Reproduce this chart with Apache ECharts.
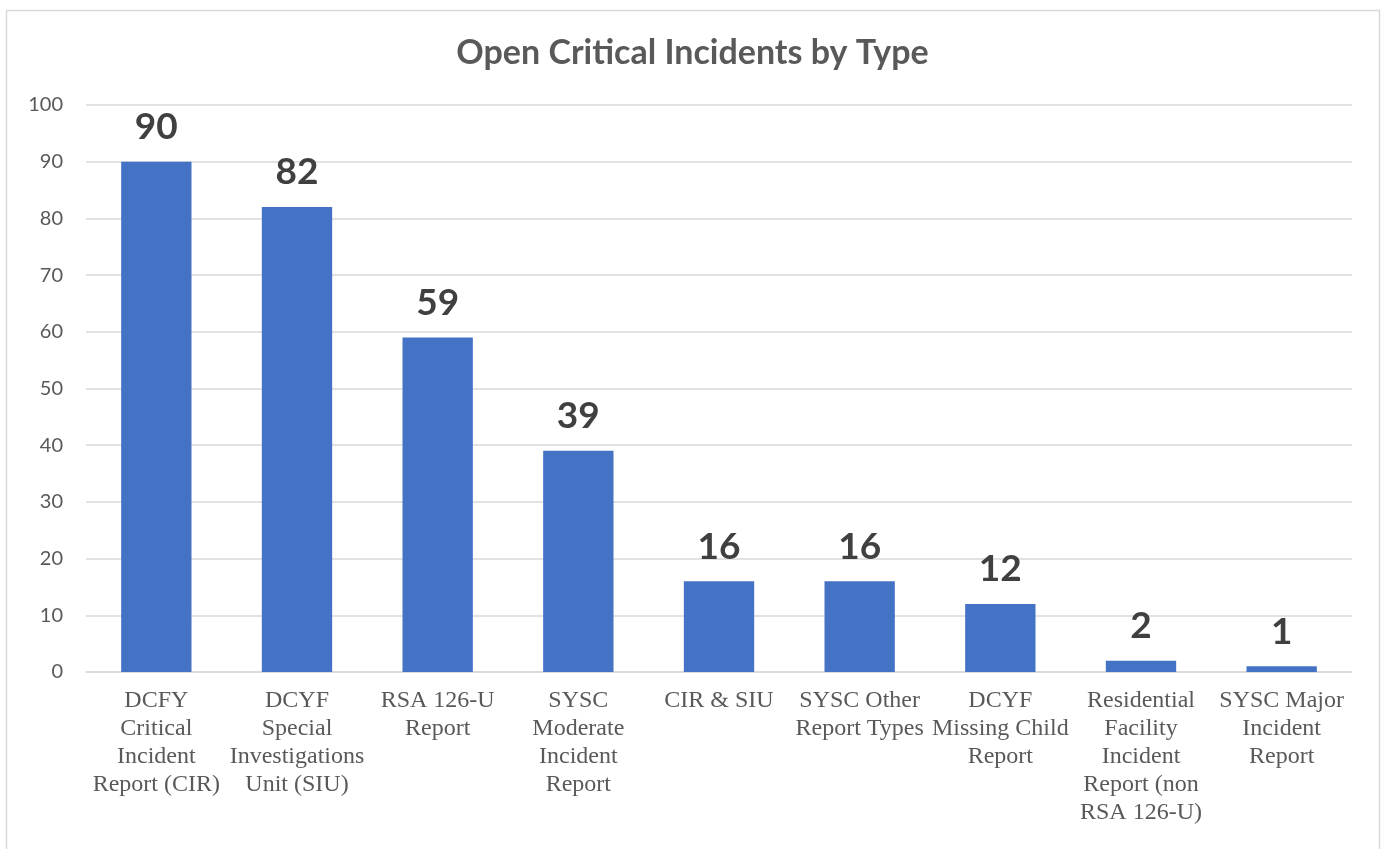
<!DOCTYPE html>
<html>
<head>
<meta charset="utf-8">
<script src="https://cdn.jsdelivr.net/npm/echarts@6/dist/echarts.min.js"></script>
<style>
html,body{margin:0;padding:0;background:#fff;}
#chart{width:1385px;height:849px;}
</style>
</head>
<body>
<div id="chart"></div>
<script>
const titleText = 'Open Critical Incidents by Type';
const categories = [
  'DCFY\nCritical\nIncident\nReport (CIR)',
  'DCYF\nSpecial\nInvestigations\nUnit (SIU)',
  'RSA 126-U\nReport',
  'SYSC\nModerate\nIncident\nReport',
  'CIR & SIU',
  'SYSC Other\nReport Types',
  'DCYF\nMissing Child\nReport',
  'Residential\nFacility\nIncident\nReport (non\nRSA 126-U)',
  'SYSC Major\nIncident\nReport'
];
const values = [90, 82, 59, 39, 16, 16, 12, 2, 1];
const yTicks = [0, 10, 20, 30, 40, 50, 60, 70, 80, 90, 100];

const chart = echarts.init(document.getElementById('chart'), null, {renderer: 'canvas'});
chart.setOption({
  animation: false,
  backgroundColor: '#fff',
  graphic: [{
    type: 'rect',
    shape: {x: 6.5, y: 10.5, width: 1373, height: 850},
    style: {fill: 'none', stroke: '#d9d9d9', lineWidth: 1.5},
    silent: true
  }],
  title: {
    text: titleText,
    left: 'center',
    top: 31,
    textStyle: {fontFamily: 'Lato', fontWeight: 'bold', fontSize: 34, color: '#595959'}
  },
  grid: {left: 86, right: 33, top: 105, bottom: 177, containLabel: false},
  xAxis: {
    type: 'category',
    data: categories,
    axisLine: {show: true, lineStyle: {color: '#d9d9d9', width: 1.5}},
    axisTick: {show: false},
    axisLabel: {
      interval: 0,
      margin: 15,
      fontFamily: 'Liberation Serif',
      fontSize: 24,
      lineHeight: 28,
      color: '#595959'
    }
  },
  yAxis: {
    type: 'value',
    min: yTicks[0],
    max: yTicks[yTicks.length - 1],
    interval: 10,
    axisLine: {show: false},
    axisTick: {show: false},
    splitLine: {lineStyle: {color: '#d9d9d9', width: 1.5}},
    axisLabel: {
      margin: 23,
      fontFamily: 'Lato',
      fontSize: 20,
      color: '#595959'
    }
  },
  series: [{
    type: 'bar',
    data: values,
    barWidth: '50%',
    itemStyle: {color: '#4472C4'},
    label: {
      show: true,
      position: 'top',
      distance: 16,
      fontFamily: 'Lato',
      fontWeight: 'bold',
      fontSize: 37,
      color: '#404040'
    }
  }]
});
</script>
</body>
</html>
